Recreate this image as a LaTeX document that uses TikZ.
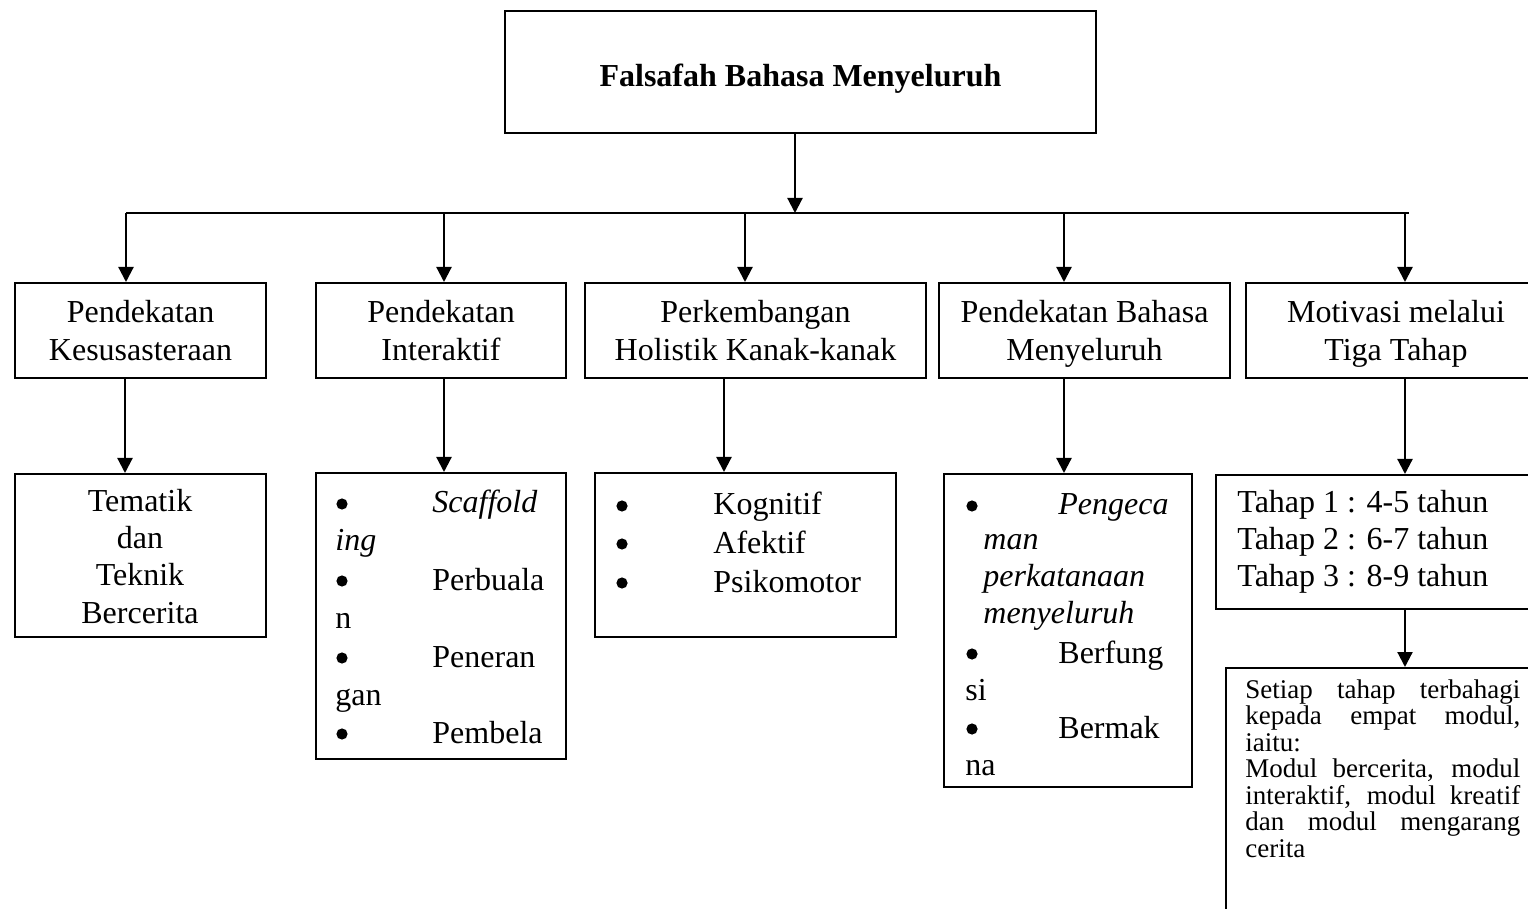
\documentclass[tikz,border=0pt]{standalone}
\usepackage{fontspec}
\setmainfont{Liberation Serif}
\usetikzlibrary{arrows.meta}
\newcommand{\topst}{\rule{0pt}{15.25pt}}
\newcommand{\botst}{\rule[-4pt]{0pt}{4pt}}
\begin{document}
\begin{tikzpicture}[x=0.5pt,y=-0.5pt,
  box/.style={draw, line width=1pt, rectangle, inner sep=0pt, anchor=north west,
    align=center, font=\fontsize{16pt}{18.75pt}\selectfont},
  lbl/.style={inner sep=0pt, anchor=base west, font=\fontsize{16pt}{18.75pt}\selectfont},
  clbl/.style={inner sep=0pt, anchor=base, font=\fontsize{16pt}{18.75pt}\selectfont},
  slbl/.style={inner sep=0pt, anchor=base west, font=\fontsize{13.5pt}{14pt}\selectfont},
  dot/.style={circle, fill=black, inner sep=0pt, minimum size=5.6pt},
  arr/.style={line width=1.1pt, -{Triangle[length=7.5pt,width=7.5pt]}},
  bar/.style={line width=1pt},
]
\useasboundingbox (0,0) rectangle (1528,909);
\clip (0,0) rectangle (1528,909);

% top box
\node[box, minimum width=295.5pt, minimum height=61pt] (top) at (504,10)
  {\rule[-4pt]{0pt}{23pt}\textbf{Falsafah Bahasa Menyeluruh}};

% level 1
\node[box, minimum width=125.5pt, minimum height=47.5pt] (l1) at (14,282) {\topst Pendekatan\\Kesusasteraan\botst};
\node[box, minimum width=125pt, minimum height=47.5pt] (l2) at (315,282) {\topst Pendekatan\\Interaktif\botst};
\node[box, minimum width=170.5pt, minimum height=47.5pt] (l3) at (584,282) {\topst Perkembangan\\Holistik Kanak-kanak\botst};
\node[box, minimum width=145.5pt, minimum height=47.5pt] (l4) at (938,282) {\topst Pendekatan Bahasa\\Menyeluruh\botst};
\node[box, minimum width=150pt, minimum height=47.5pt] (l5) at (1245,282) {\topst Motivasi melalui\\Tiga Tahap\botst};

% level 2 boxes
\node[box, minimum width=125.5pt, minimum height=81.5pt] (m1) at (14,473) {};
\node[box, minimum width=125pt, minimum height=143pt] (m2) at (315,472) {};
\node[box, minimum width=150.5pt, minimum height=82pt] (m3) at (594,472) {};
\node[box, minimum width=124pt, minimum height=156.5pt] (m4) at (943,473) {};
\node[box, minimum width=165pt, minimum height=67pt] (m5) at (1215,474) {};
\node[box, minimum width=160pt, minimum height=136.5pt] (m6) at (1225,667) {};

% bar
\coordinate (bl) at (126,213);
\coordinate (br) at (1409,213);
\draw[bar] (bl) -- (br);
\coordinate (b1) at (126,213);
\coordinate (b2) at (444,213);
\coordinate (b3) at (745,213);
\coordinate (b4) at (1064,213);
\coordinate (b5) at (1405,213);
\coordinate (bt) at (795,213);

\draw[arr] (bt |- top.south) -- (bt);
\draw[arr] (b1) -- (b1 |- l1.north);
\draw[arr] (b2) -- (b2 |- l2.north);
\draw[arr] (b3) -- (b3 |- l3.north);
\draw[arr] (b4) -- (b4 |- l4.north);
\draw[arr] (b5) -- (b5 |- l5.north);

\coordinate (d1) at (125,0);
\coordinate (d2) at (444,0);
\coordinate (d3) at (724,0);
\coordinate (d4) at (1064,0);
\coordinate (d5) at (1405,0);
\draw[arr] (d1 |- l1.south) -- (d1 |- m1.north);
\draw[arr] (d2 |- l2.south) -- (d2 |- m2.north);
\draw[arr] (d3 |- l3.south) -- (d3 |- m3.north);
\draw[arr] (d4 |- l4.south) -- (d4 |- m4.north);
\draw[arr] (d5 |- l5.south) -- (d5 |- m5.north);
\draw[arr] (d5 |- m5.south) -- (d5 |- m6.north);

% m1 text
\node[clbl] (t11) at (140,512) {Tematik};
\node[clbl] (t12) at (140,549) {dan};
\node[clbl] (t13) at (140,586) {Teknik};
\node[clbl] (t14) at (140,623) {Bercerita};

% m2 text
\node[dot] (p1b) at (342,504) {};
\node[lbl] (p1) at (432,513) {\textit{Scaffold}};
\node[lbl] (p1c) at (335,551) {\textit{ing}};
\node[dot] (p2b) at (342,581) {};
\node[lbl] (p2) at (432,590) {Perbuala};
\node[lbl] (p2c) at (335,628) {n};
\node[dot] (p3b) at (342,658) {};
\node[lbl] (p3) at (432,667) {Peneran};
\node[lbl] (p3c) at (335,705) {gan};
\node[dot] (p4b) at (342,734) {};
\node[lbl] (p4) at (432,743) {Pembela};

% m3 text
\node[dot] (k1b) at (622,506) {};
\node[lbl] (k1) at (713,515) {Kognitif};
\node[dot] (k2b) at (622,544) {};
\node[lbl] (k2) at (713,553) {Afektif};
\node[dot] (k3b) at (622,583) {};
\node[lbl] (k3) at (713,592) {Psikomotor};

% m4 text
\node[dot] (q1b) at (972,506) {};
\node[lbl] (q1) at (1058,515) {\textit{Pengeca}};
\node[lbl] (q1c) at (983,550) {\textit{man}};
\node[lbl] (q1d) at (983,587) {\textit{perkatanaan}};
\node[lbl] (q1e) at (983,623) {\textit{menyeluruh}};
\node[dot] (q2b) at (972,654) {};
\node[lbl] (q2) at (1058,663) {Berfung};
\node[lbl] (q2c) at (965,700) {si};
\node[dot] (q3b) at (972,729) {};
\node[lbl] (q3) at (1058,738) {Bermak};
\node[lbl] (q3c) at (965,775) {na};

% m5 text
\node[lbl] (h1) at (1237,513) {Tahap 1 : 4-5 tahun};
\node[lbl] (h2) at (1237,550) {Tahap 2 : 6-7 tahun};
\node[lbl] (h3) at (1237,587) {Tahap 3 : 8-9 tahun};

% m6 text
\node[slbl] (s1) at (1245,698) {\makebox[137.5pt][s]{Setiap tahap terbahagi}};
\node[slbl] (s2) at (1245,724.5) {\makebox[137.5pt][s]{kepada empat modul,}};
\node[slbl] (s3) at (1245,751) {iaitu:};
\node[slbl] (s4) at (1245,777.5) {\makebox[137.5pt][s]{Modul bercerita, modul}};
\node[slbl] (s5) at (1245,804) {\makebox[137.5pt][s]{interaktif, modul kreatif}};
\node[slbl] (s6) at (1245,830.5) {\makebox[137.5pt][s]{dan modul mengarang}};
\node[slbl] (s7) at (1245,857) {cerita};
\end{tikzpicture}
\end{document}
